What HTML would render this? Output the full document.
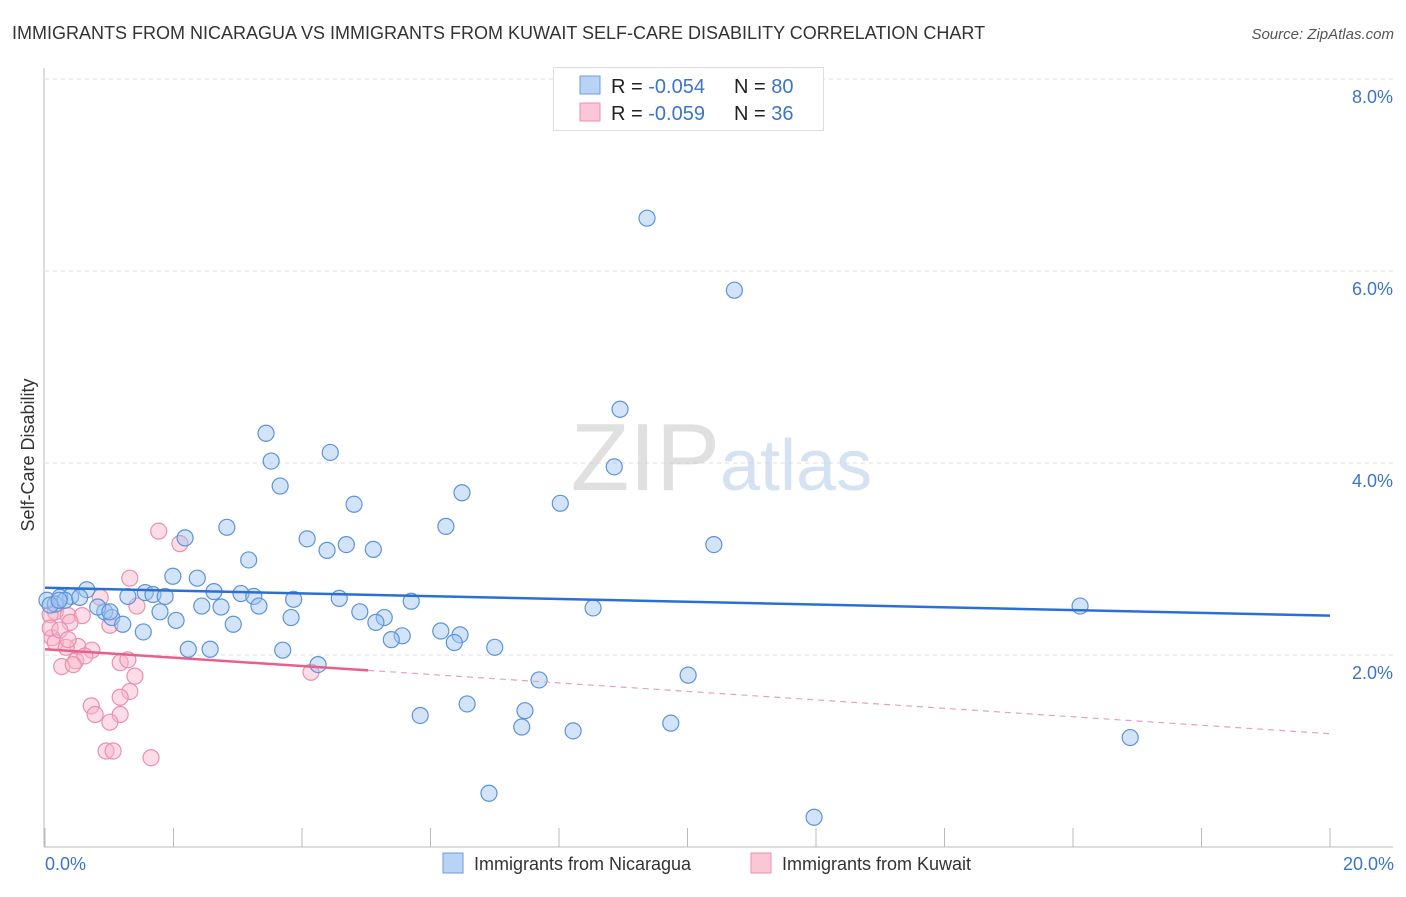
<!DOCTYPE html>
<html><head><meta charset="utf-8"><style>
body{margin:0;background:#fff;font-family:"Liberation Sans",sans-serif;}
svg text{font-family:"Liberation Sans",sans-serif;}
</style></head><body>
<svg width="1406" height="892" xmlns="http://www.w3.org/2000/svg">
<text x="12" y="39" font-size="18" fill="#333">IMMIGRANTS FROM NICARAGUA VS IMMIGRANTS FROM KUWAIT SELF-CARE DISABILITY CORRELATION CHART</text>
<text x="1394" y="39" font-size="15" fill="#555" font-style="italic" text-anchor="end">Source: ZipAtlas.com</text>
<g id="grid"></g>
<text x="720" y="490" font-size="96" fill="#ccc" text-anchor="end" font-family="Liberation Serif" opacity="0.6">ZIP</text>
<text x="720" y="490" font-size="72" fill="#b9cfe8" opacity="0.6">atlas</text>
<g id="pts"></g>
<g id="trend"></g>
<text transform="translate(34,455) rotate(-90)" font-size="18" fill="#333" text-anchor="middle">Self-Care Disability</text>
<text x="45" y="870" font-size="18" fill="#3a75c9">0.0%</text>
<text x="1394" y="870" font-size="18" fill="#3a75c9" text-anchor="end">20.0%</text>
<g>
<rect x="553.5" y="67.5" width="270" height="63" fill="#fff" stroke="#ddd"/>
<rect x="580" y="76" width="20" height="18" fill="#b8d3f5" stroke="#6a9de0"/>
<rect x="580" y="103" width="20" height="18" fill="#fbc6d6" stroke="#ec8fac"/>
<text x="611" y="93" font-size="20" fill="#222">R = <tspan fill="#3a75c9">-0.054</tspan><tspan x="734">N = </tspan><tspan fill="#3a75c9">80</tspan></text>
<text x="611" y="120" font-size="20" fill="#222">R = <tspan fill="#3a75c9">-0.059</tspan><tspan x="734">N = </tspan><tspan fill="#3a75c9"> 36</tspan></text>
</g>
<g>
<rect x="443" y="853" width="20" height="20" fill="#b8d3f5" stroke="#6a9de0"/>
<text x="474" y="870" font-size="18" fill="#333">Immigrants from Nicaragua</text>
<rect x="751" y="853" width="20" height="20" fill="#fbc6d6" stroke="#ec8fac"/>
<text x="782" y="870" font-size="18" fill="#333">Immigrants from Kuwait</text>
</g>
</svg>
<script>
const yTicks=[2,4,6,8];
const xTicks=[0,2,4,6,8,10,12,14,16,18,20];
const blueX=[9.37,10.73,8.95,3.44,3.52,4.44,8.86,3.66,6.49,4.81,8.02,6.24,2.83,2.18,4.08,4.69,4.39,5.11,10.41,3.17,1.99,2.37,2.63,3.05,3.25,4.58,3.87,5.70,1.29,1.56,1.68,1.87,0.65,0.40,0.23,0.03,0.93,1.79,2.04,2.44,2.74,3.33,4.90,8.53,16.11,3.83,5.28,5.15,1.04,1.21,1.53,2.93,6.16,6.46,5.56,5.39,6.37,7.00,2.23,2.57,3.70,4.25,7.69,10.01,6.57,5.84,7.47,7.42,8.22,9.74,16.89,6.91,11.97,0.16,0.31,0.54,0.08,0.82,1.01,0.22];
const blueY=[6.55,5.80,4.56,4.31,4.02,4.11,3.96,3.76,3.69,3.57,3.58,3.34,3.33,3.22,3.21,3.15,3.09,3.10,3.15,2.99,2.82,2.80,2.66,2.64,2.61,2.59,2.58,2.56,2.61,2.65,2.63,2.61,2.68,2.61,2.60,2.57,2.45,2.45,2.36,2.51,2.50,2.51,2.45,2.49,2.51,2.39,2.39,2.34,2.39,2.32,2.24,2.32,2.25,2.21,2.20,2.16,2.13,2.08,2.06,2.06,2.05,1.90,1.74,1.79,1.49,1.37,1.42,1.25,1.21,1.29,1.14,0.56,0.31,2.53,2.57,2.60,2.52,2.50,2.45,2.57];
const pinkX=[1.77,2.10,1.32,0.86,1.43,0.16,0.08,0.36,0.58,1.01,0.39,0.11,0.51,0.73,0.16,0.33,1.17,1.29,0.26,0.48,0.62,0.44,1.40,1.32,1.17,0.72,0.78,1.17,1.01,0.95,1.06,1.65,4.14,0.08,0.23,0.36];
const pinkY=[3.29,3.16,2.80,2.60,2.51,2.45,2.42,2.41,2.41,2.31,2.34,2.18,2.09,2.05,2.13,2.08,1.92,1.95,1.88,1.94,1.99,1.90,1.78,1.62,1.56,1.47,1.38,1.38,1.30,1.00,1.00,0.93,1.82,2.28,2.26,2.16];
const blueTrend=[2.70,2.41];
const pinkTrend=[2.06,1.84,1.18];
const pinkSolidEnd=5.03;
const NS="http://www.w3.org/2000/svg";
const X=v=>45+v/20*1285, Y=v=>847-v*96;
function mk(t,a,p){const e=document.createElementNS(NS,t);for(const k in a)e.setAttribute(k,a[k]);p.appendChild(e);return e;}
const g=document.getElementById('grid');
yTicks.forEach(t=>{
 const l=mk('line',{x1:45,x2:1393,y1:Y(t),y2:Y(t),stroke:'#ddd','stroke-dasharray':'4,4'},g);
 
 
 const tx=mk('text',{x:1393,y:Y(t)+24,'font-size':18,fill:'#3a75c9','text-anchor':'end'},g);
 tx.textContent=t.toFixed(1)+'%';
 
 
});
const ax=mk('line',{x1:44,x2:44,y1:68,y2:847,stroke:'#bbb'},g);


const bx=mk('line',{x1:44,x2:1393,y1:847,y2:847,stroke:'#bbb'},g);


xTicks.forEach(t=>{
 const l=mk('line',{x1:X(t),x2:X(t),y1:828,y2:847,stroke:'#bbb'},g);
 
 
});
const p=document.getElementById('pts');
pinkX.forEach((x,i)=>{
 const c=mk('circle',{cx:X(x),cy:Y(pinkY[i]),r:8,fill:'rgba(248,180,202,0.45)',stroke:'#ec8fac','stroke-width':1.2},p);
 
 
});
blueX.forEach((x,i)=>{
 const c=mk('circle',{cx:X(x),cy:Y(blueY[i]),r:8,fill:'rgba(160,196,240,0.45)',stroke:'#5b93db','stroke-width':1.2},p);
 
 
});
const tr=document.getElementById('trend');
const b=mk('line',{x1:X(0),y1:Y(blueTrend[0]),x2:X(20),y2:Y(blueTrend[1]),stroke:'#2a6fd6','stroke-width':2.5},tr);


const ps=mk('line',{x1:X(0),y1:Y(pinkTrend[0]),x2:X(pinkSolidEnd),y2:Y(pinkTrend[1]),stroke:'#e8608a','stroke-width':2.5},tr);


const pd=mk('line',{x1:X(pinkSolidEnd),y1:Y(pinkTrend[1]),x2:X(20),y2:Y(pinkTrend[2]),stroke:'#e8a0b6','stroke-width':1.2,'stroke-dasharray':'6,5'},tr);


</script>
</body></html>
